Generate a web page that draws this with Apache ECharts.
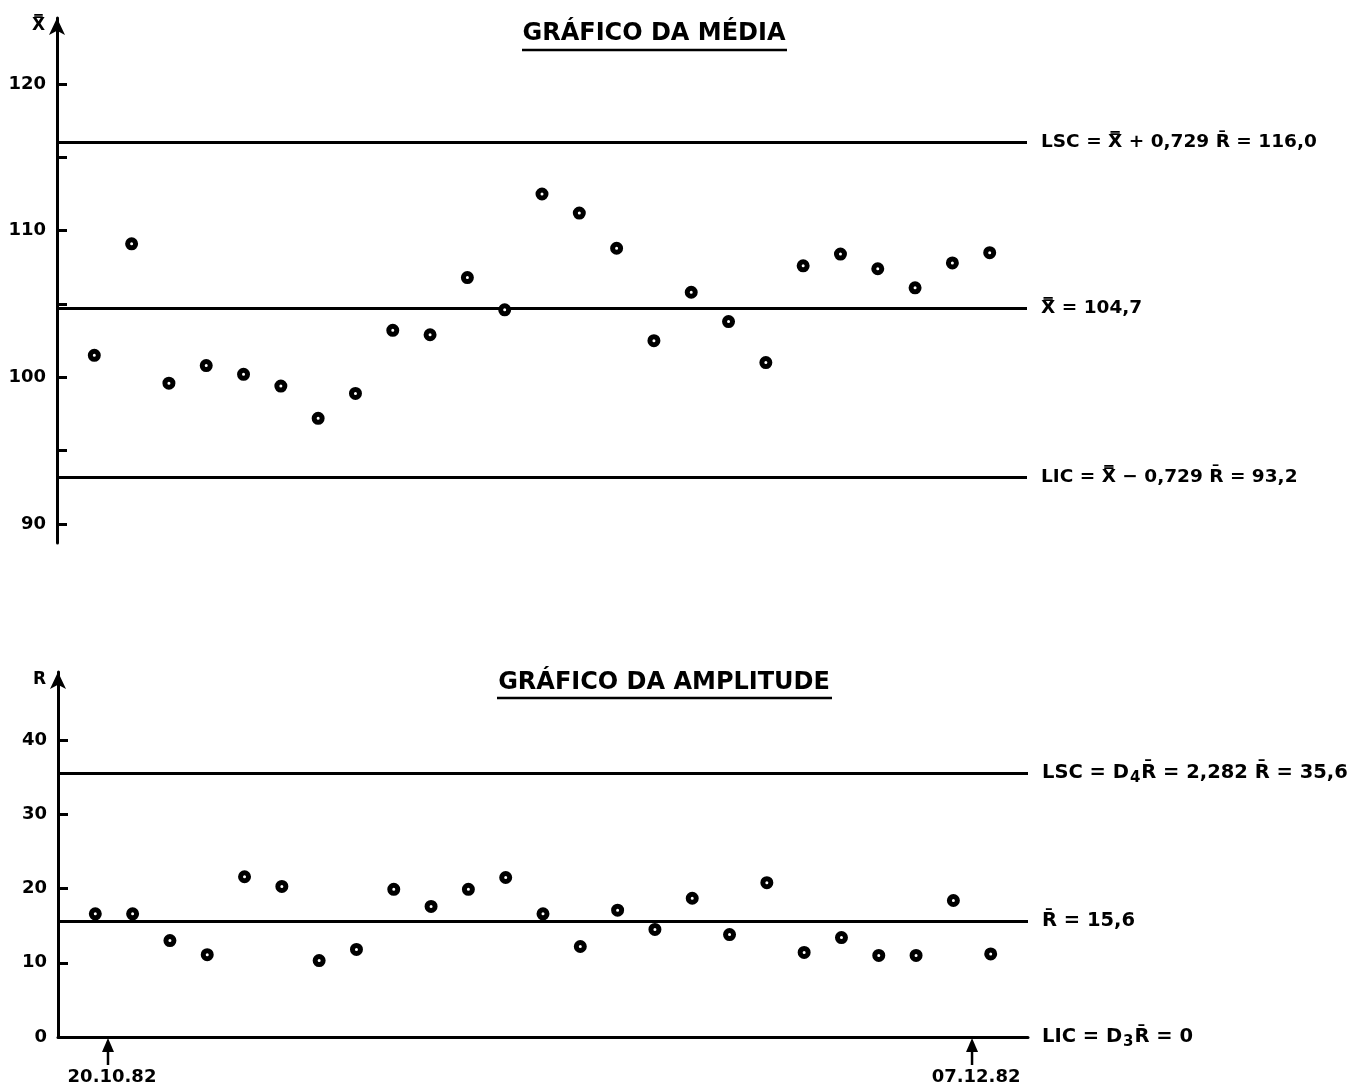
<!DOCTYPE html>
<html>
<head>
<meta charset="utf-8">
<script src="https://cdn.jsdelivr.net/npm/echarts@6/dist/echarts.min.js"></script>
<style>
html,body{margin:0;padding:0;background:#fff;}
#c{width:1365px;height:1091px;}
</style>
</head>
<body>
<div id="c"></div>
<script>
// ---- data ----
const samples = [1,2,3,4,5,6,7,8,9,10,11,12,13,14,15,16,17,18,19,20,21,22,23,24,25];
const xbarValues = [101.5, 109.1, 99.6, 100.8, 100.2, 99.4, 97.2, 98.9, 103.2, 102.9, 106.8, 104.6, 112.5, 111.2, 108.8, 102.5, 105.8, 103.8, 101.0, 107.6, 108.4, 107.4, 106.1, 107.8, 108.5];
const rangeValues = [16.6, 16.6, 13.0, 11.1, 21.6, 20.3, 10.3, 11.8, 19.9, 17.6, 19.9, 21.5, 16.6, 12.2, 17.1, 14.5, 18.7, 13.8, 20.8, 11.4, 13.4, 11.0, 11.0, 18.4, 11.2];
const xbarLimits = [116.0, 104.7, 93.2];
const xbarLimitLabels = ['LSC = X\u033F + 0,729 R\u0304 = 116,0', 'X\u033F = 104,7', 'LIC = X\u033F \u2212 0,729 R\u0304 = 93,2'];
const rLimits = [35.6, 15.6, 0];
const rLimitLabels = ['LSC = D{s|4}R\u0304 = 2,282 R\u0304 = 35,6', 'R\u0304 = 15,6', 'LIC = D{s|3}R\u0304 = 0'];
const xbarTicks = [90, 95, 100, 105, 110, 115, 120];
const xbarTickLabels = [90, 100, 110, 120];
const rTicks = [10, 20, 30, 40];
const rTickLabels = [0, 10, 20, 30, 40];
const dateMarks = ['20.10.82', '07.12.82'];
const dateMarkPositions = [1.34, 24.5];
const titles = ['GRÁFICO DA MÉDIA', 'GRÁFICO DA AMPLITUDE'];
const axisNames = ['X\u033F', 'R'];

// ---- chart ----
const FONT = 'DejaVu Sans';
const chart = echarts.init(document.getElementById('c'), null, {renderer: 'canvas'});

function markLineOf(vals, labels, size) {
  return {
    silent: true,
    animation: false,
    symbol: ['none', 'none'],
    lineStyle: {color: '#000', width: 3, type: 'solid'},
    emphasis: {disabled: true},
    label: {
      show: true, position: 'end', distance: 14, color: '#000',
      fontFamily: FONT, fontWeight: 'bold', fontSize: size,
      formatter: p => labels[p.dataIndex],
      rich: {s: {fontFamily: FONT, fontWeight: 'bold', fontSize: 15, color: '#000', padding: [10, 1, 0, 1]}}
    },
    data: vals.map(v => ({yAxis: v}))
  };
}

function yAxisOf(gi, min, max, ticks, tickLabels, name) {
  return {
    gridIndex: gi, type: 'value', min: min, max: max,
    name: name, nameLocation: 'end', nameGap: -8,
    nameTextStyle: {color: '#000', fontFamily: FONT, fontWeight: 'bold', fontSize: 17, align: 'right', verticalAlign: 'middle', padding: [0, 12, 0, 0]},
    axisLine: {show: true, symbol: ['none', 'arrow'], symbolSize: [12, 17], lineStyle: {color: '#000', width: 3}},
    axisTick: {show: true, inside: true, length: 10, lineStyle: {color: '#000', width: 3}, customValues: ticks},
    axisLabel: {show: true, margin: 11, color: '#000', fontFamily: FONT, fontWeight: 'bold', fontSize: 18, customValues: tickLabels},
    splitLine: {show: false}
  };
}

const marker = {color: '#fff', borderColor: '#000', borderWidth: 5, opacity: 1};

const option = {
  animation: false,
  backgroundColor: '#fff',
  grid: [
    {left: 57, top: 18, width: 970, height: 525},
    {left: 58, top: 672, width: 970, height: 365}
  ],
  xAxis: [
    {gridIndex: 0, type: 'value', min: 0, max: 26, show: false},
    {gridIndex: 1, type: 'value', min: 0, max: 26,
     axisLine: {show: true, onZero: true, lineStyle: {color: '#000', width: 3}},
     axisTick: {show: false}, axisLabel: {show: false}, splitLine: {show: false}}
  ],
  yAxis: [
    yAxisOf(0, 88.7, 124.5, xbarTicks, xbarTickLabels, axisNames[0]),
    yAxisOf(1, 0, 49.2, rTicks, rTickLabels, axisNames[1])
  ],
  series: [
    {type: 'scatter', xAxisIndex: 0, yAxisIndex: 0, symbol: 'circle', symbolSize: 8,
     itemStyle: marker, emphasis: {disabled: true}, z: 5,
     data: samples.map((s, i) => [s, xbarValues[i]]),
     markLine: markLineOf(xbarLimits, xbarLimitLabels, 18.5)},
    {type: 'scatter', xAxisIndex: 1, yAxisIndex: 1, symbol: 'circle', symbolSize: 8,
     itemStyle: marker, emphasis: {disabled: true}, z: 5,
     data: samples.map((s, i) => [s, rangeValues[i]]),
     markLine: markLineOf(rLimits, rLimitLabels, 19.5)}
  ]
};
chart.setOption(option);

// ---- annotations (titles, date arrows) ----
const g = [];
const titlePos = [[654, 34, 522, 787, 50], [664, 683, 497, 832, 698]];
titles.forEach((t, i) => {
  const tp = titlePos[i];
  g.push({type: 'text', x: tp[0], y: tp[1], style: {text: t, fill: '#000', fontFamily: FONT, fontWeight: 'bold', fontSize: 24, align: 'center', verticalAlign: 'middle'}});
  g.push({type: 'line', shape: {x1: tp[2], y1: tp[4], x2: tp[3], y2: tp[4]}, style: {stroke: '#000', lineWidth: 2.5}});
});
dateMarks.forEach((label, i) => {
  const p = chart.convertToPixel({xAxisIndex: 1, yAxisIndex: 1}, [dateMarkPositions[i], 0]);
  g.push({type: 'line', shape: {x1: p[0], y1: p[1] + 28, x2: p[0], y2: p[1] + 10}, style: {stroke: '#000', lineWidth: 2.5}});
  g.push({type: 'polygon', shape: {points: [[p[0], p[1] + 1], [p[0] - 6, p[1] + 15], [p[0] + 6, p[1] + 15]]}, style: {fill: '#000'}});
  g.push({type: 'text', x: p[0] + 4, y: p[1] + 40, style: {text: label, fill: '#000', fontFamily: FONT, fontWeight: 'bold', fontSize: 18, align: 'center', verticalAlign: 'middle'}});
});
chart.setOption({graphic: g});
</script>
</body>
</html>
